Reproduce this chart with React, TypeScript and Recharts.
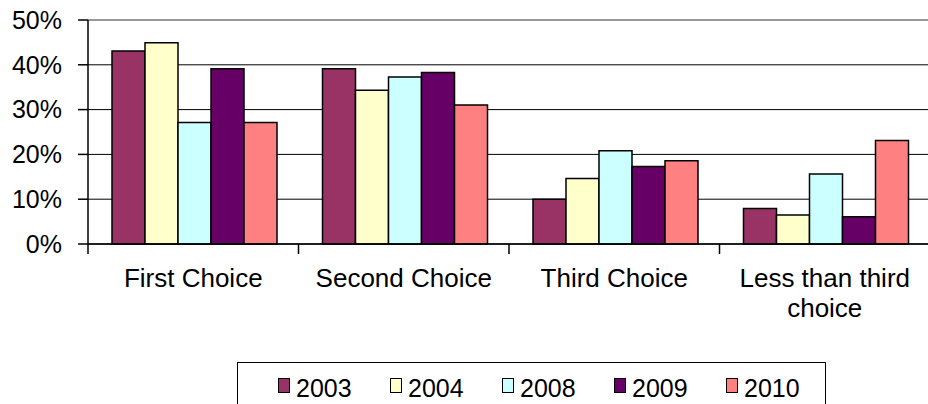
import React from "react";
import { BarChart, Bar, XAxis, YAxis, CartesianGrid, Legend, ReferenceLine } from "recharts";

const FONT = "'Liberation Sans', Arial, sans-serif";

const categories = ["First Choice", "Second Choice", "Third Choice", "Less than third choice"];
const categoryLines = [["First Choice"], ["Second Choice"], ["Third Choice"], ["Less than third", "choice"]];
const s2003 = [43.1, 39.1, 10.0, 7.9];
const s2004 = [44.9, 34.3, 14.6, 6.5];
const s2008 = [27.1, 37.3, 20.8, 15.6];
const s2009 = [39.1, 38.3, 17.3, 6.1];
const s2010 = [27.1, 31.0, 18.6, 23.1];
const yTicks = [0, 10, 20, 30, 40, 50];

const series = [
  { key: "2003", values: s2003, color: "#993366" },
  { key: "2004", values: s2004, color: "#FFFFCC" },
  { key: "2008", values: s2008, color: "#CCFFFF" },
  { key: "2009", values: s2009, color: "#660066" },
  { key: "2010", values: s2010, color: "#FF8080" },
];

const data = categories.map((c, i) => {
  const row: Record<string, string | number> = { category: c };
  series.forEach((s) => {
    row[s.key] = s.values[i];
  });
  return row;
});

const CategoryTick = (props: any) => {
  const { x, y, payload } = props;
  const off = payload && typeof payload.offset === "number" ? payload.offset : 105;
  const idx = categories.indexOf(payload.value);
  const lines = idx >= 0 ? categoryLines[idx] : [String(payload.value)];
  return (
    <g>
      <line x1={x - off} x2={x - off} y1={y} y2={y + 10} stroke="#000" strokeWidth={1.5} />
      <text x={x} y={y + 43} textAnchor="middle" fontSize={26} fontFamily={FONT} fill="#000">
        {lines.map((l, i) => (
          <tspan key={i} x={x} dy={i === 0 ? 0 : 30}>
            {l}
          </tspan>
        ))}
      </text>
    </g>
  );
};

const LegendBox = (props: any) => {
  const payload = props.payload || [];
  return (
    <div
      style={{
        boxSizing: "border-box",
        width: 589,
        height: 50,
        border: "1.5px solid #000",
        background: "#fff",
        display: "flex",
        alignItems: "flex-start",
        paddingLeft: 40,
        paddingTop: 11,
        fontFamily: FONT,
        fontSize: 25,
        color: "#000",
      }}
    >
      {payload.map((p: any) => (
        <div key={p.value} style={{ width: 112, display: "flex", alignItems: "center", flex: "none" }}>
          <span
            style={{
              display: "inline-block",
              boxSizing: "border-box",
              width: 12,
              height: 15,
              background: p.color,
              border: "1.5px solid #000",
              marginRight: 6,
              marginBottom: 6,
            }}
          />
          <span>{p.value}</span>
        </div>
      ))}
    </div>
  );
};

export default function App() {
  return (
    <div style={{ position: "absolute", left: 0, top: 0, fontFamily: FONT }}>
      <BarChart
        width={928}
        height={404}
        data={data}
        margin={{ top: 20, right: -2, left: 0, bottom: 60 }}
        barCategoryGap={24}
        barGap={0}
      >
        <CartesianGrid vertical={false} stroke="#000" strokeWidth={1} />
        <XAxis
          dataKey="category"
          height={100}
          axisLine={{ stroke: "#000", strokeWidth: 1.5 }}
          tickLine={false}
          tickSize={0}
          tickMargin={0}
          interval={0}
          tick={<CategoryTick />}
        />
        <YAxis
          width={88}
          domain={[0, 50]}
          ticks={yTicks}
          interval={0}
          tickFormatter={(v: number) => `${v}%`}
          axisLine={{ stroke: "#000", strokeWidth: 1.5 }}
          tickLine={{ stroke: "#000", strokeWidth: 1.5 }}
          tickSize={10}
          tickMargin={16}
          tick={{ fill: "#000", fontSize: 25, fontFamily: FONT }}
        />
        <ReferenceLine y={50} stroke="#999" strokeWidth={2} />
        {series.map((s) => (
          <Bar
            key={s.key}
            dataKey={s.key}
            name={s.key}
            fill={s.color}
            stroke="#000"
            strokeWidth={1.5}
            isAnimationActive={false}
          />
        ))}
        <Legend
          layout="horizontal"
          verticalAlign="middle"
          align="center"
          wrapperStyle={{ left: 237, top: 362, width: 589, height: 50 }}
          content={<LegendBox />}
        />
      </BarChart>
    </div>
  );
}
